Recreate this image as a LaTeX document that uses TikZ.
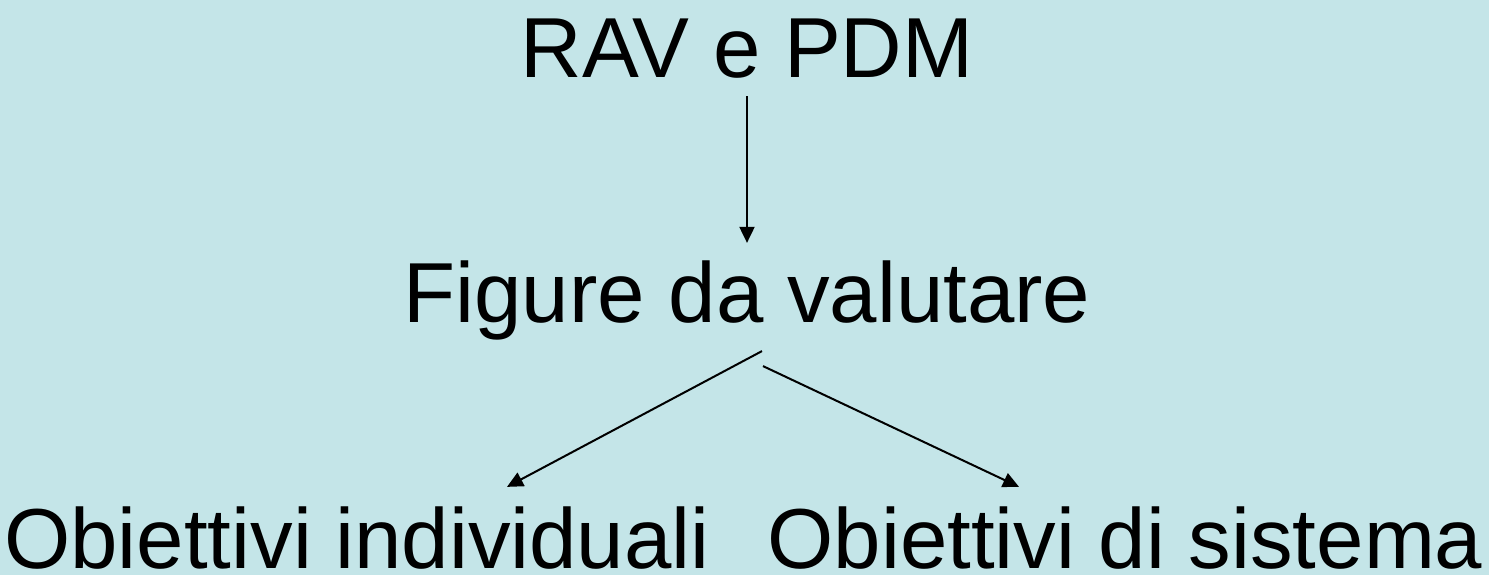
\documentclass[tikz,border=0pt]{standalone}
\usepackage{fontspec}
\setmainfont{Liberation Sans}
\usetikzlibrary{arrows.meta}
\definecolor{bgcyan}{RGB}{196,229,232}

\begin{document}
\begin{tikzpicture}[x=0.5pt,y=-0.5pt,
        txt/.style={anchor=base, inner sep=0pt, font=\fontsize{42.6}{50}\selectfont},
        arr/.style={-{Triangle[length=8pt,width=7.5pt]}, line width=1pt}]
        \fill[bgcyan] (0,0) rectangle (1489,575);
        \node[txt] (rav) at (747,77) {RAV e PDM};
        \node[txt] (fig) at (747,322) {Figure da valutare};
        \node[txt] (ind) at (357,568) {Obiettivi individuali};
        \node[txt] (sis) at (1125,568) {Obiettivi di sistema};
            \draw[arr] ([yshift=-9pt]rav.south) -- ([yshift=8.5pt]fig.north);
            \draw[arr] ([xshift=7.5pt, yshift=-5.5pt]fig.south)
                -- ([xshift=75pt, yshift=9.5pt]ind.north);
            \draw[arr] ([xshift=8pt, yshift=-13pt]fig.south)
                -- ([xshift=-53pt, yshift=9.5pt]sis.north);
\end{tikzpicture}
\end{document}
